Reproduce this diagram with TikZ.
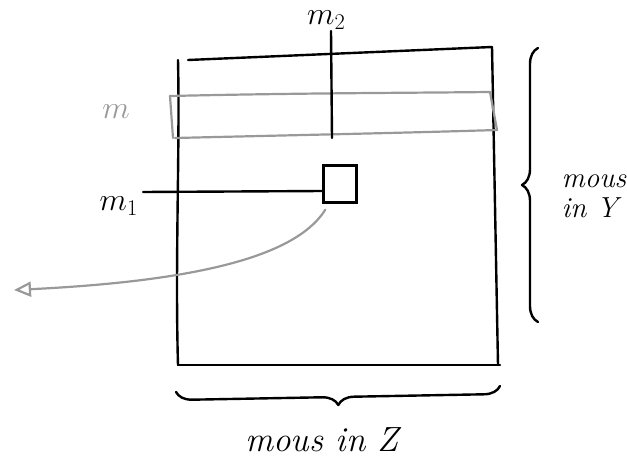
\RequirePackage{fix-cm}
\documentclass[tikz,border=0pt]{standalone}
\usepackage{fontspec}
\usetikzlibrary{decorations.pathreplacing,arrows.meta}
\tikzset{
  ink/.style={line width=2.4pt, black, line cap=round, line join=round},
  pale/.style={line width=2.2pt, black!40, line cap=round, line join=round},
  hand/.style={font=\fontsize{32}{34}\selectfont\itshape, inner sep=0pt},
  bracestroke/.style={ink, decorate, decoration={brace, amplitude=16pt}}
}
\begin{document}
\begin{tikzpicture}[x=1pt, y=-1pt]
\useasboundingbox (0,0) rectangle (627,460);

% outer square
\draw[ink] (188,60) -- (492,47);
\draw[ink] (178,60) .. controls (180,150) and (175,260) .. (178,365);
\draw[ink] (492,47) .. controls (494,150) and (496,260) .. (498,365);
\draw[ink] (178,365) -- (500,365);

% highlighted row band
\draw[pale] (170,96) .. controls (300,93) and (400,93) .. (490,92);
\draw[pale] (175,138) .. controls (300,135) and (400,133) .. (497,130);
\draw[pale] (170,96) -- (173,138);
\draw[pale] (490,92) -- (497,130);

% column marker
\coordinate (colTop) at (331,31);
\draw[ink] (colTop) -- (332,138);
\node[hand, anchor=south west, xshift=-14pt] (mtwo) at (321,30) {$m_2$};

% band label
\node[hand, text=black!40] (mband) at (116,112) {$m$};

% cell
\node[draw, line width=2.4pt, minimum width=33pt, minimum height=37pt, inner sep=0pt] (cell) at (340,184) {};
\node[hand, anchor=east] (mone) at (138,206) {$m_1$};
\draw[ink] (143,192) -- (cell.west |- 0,191);

% output arrow
\coordinate (outEnd) at (14,290);
\draw[pale, -{Triangle[open, length=17pt, width=15pt]}] (cell.south west) ++(3,6)
  .. controls (300,250) and (220,280) .. (outEnd);

% braces
\draw[bracestroke] (538,322) -- (538,48);
\node[hand, align=left, font=\fontsize{29}{30}\selectfont\itshape] (ylabel) at (594,196) {mous\\ in Y};
\draw[bracestroke] (500,386) -- (176,392);
\node[hand, font=\fontsize{35}{36}\selectfont\itshape] (zlabel) at (322,440) {mous in Z};
\end{tikzpicture}
\end{document}
